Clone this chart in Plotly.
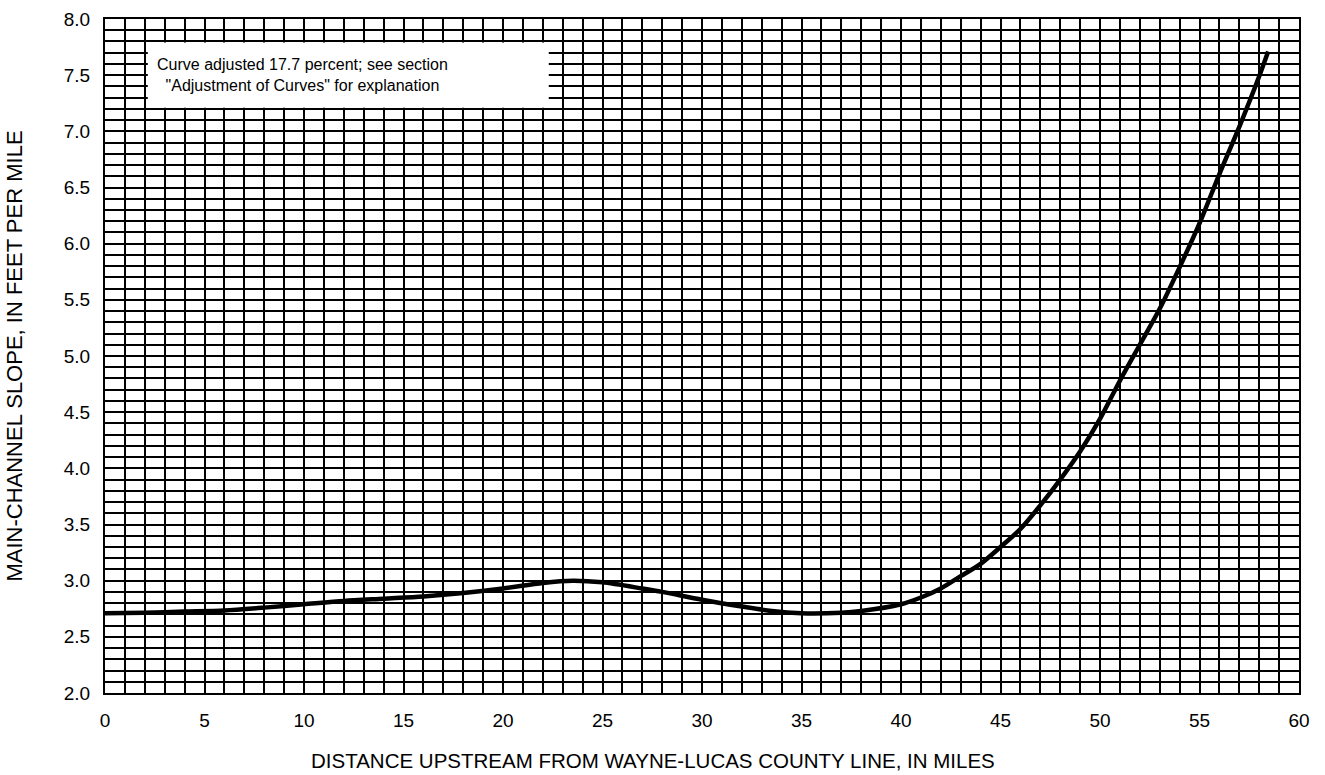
import plotly.graph_objects as go

# Distance upstream (miles) and main-channel slope (ft/mi)
distance = [0, 2, 4, 6, 8, 10, 12, 14, 16, 18, 20, 22, 23.5, 25, 27, 28, 30, 32,
            33.5, 35, 37, 38, 40, 41, 42, 43, 44, 45, 46, 47, 48, 49, 50, 51, 52,
            53, 54, 55, 56, 57, 58, 58.45]
slope = [2.71, 2.715, 2.725, 2.735, 2.76, 2.79, 2.82, 2.84, 2.86, 2.89, 2.93, 2.98,
         3.00, 2.985, 2.93, 2.90, 2.83, 2.77, 2.73, 2.71, 2.715, 2.73, 2.79, 2.85,
         2.93, 3.04, 3.15, 3.30, 3.46, 3.67, 3.90, 4.15, 4.44, 4.78, 5.10, 5.42,
         5.79, 6.18, 6.62, 7.04, 7.49, 7.71]

x_ticks = [0, 5, 10, 15, 20, 25, 30, 35, 40, 45, 50, 55, 60]
y_ticks = [2.0, 2.5, 3.0, 3.5, 4.0, 4.5, 5.0, 5.5, 6.0, 6.5, 7.0, 7.5, 8.0]

note_text = "Curve adjusted 17.7 percent; see section<br>\"Adjustment of Curves\" for explanation"
x_title = "DISTANCE UPSTREAM FROM WAYNE-LUCAS COUNTY LINE, IN MILES"
y_title = "MAIN-CHANNEL SLOPE, IN FEET PER MILE"

FONT = "Liberation Sans, Arial, Helvetica, sans-serif"

fig = go.Figure()
fig.add_trace(go.Scatter(
    x=distance, y=slope, mode="lines",
    line=dict(color="black", width=4.5, shape="spline", smoothing=0.8),
    hoverinfo="skip", showlegend=False,
))

# white box behind the note
fig.add_shape(type="rect", xref="x", yref="y", x0=2.15, x1=22.3, y0=7.21, y1=7.79,
              fillcolor="white", line=dict(width=0), layer="above")
fig.add_annotation(x=2.5, y=7.5, xref="x", yref="y", text=note_text, showarrow=False,
                   xanchor="left", yanchor="middle", align="center",
                   font=dict(family=FONT, size=16, color="black"))

# x-axis title (placed slightly left of centre, as in the original)
fig.add_annotation(x=0.459, y=0, xref="paper", yref="paper", yshift=-67,
                   text=x_title, showarrow=False, xanchor="center", yanchor="middle",
                   font=dict(family=FONT, size=20.5, color="black"))

axis_common = dict(
    showline=True, mirror=True, linecolor="black", linewidth=2,
    showgrid=True, gridcolor="black", gridwidth=1.6,
    zeroline=False, ticks="", ticklabelstandoff=9, automargin=False,
    tickfont=dict(family=FONT, size=19, color="black"),
)

fig.update_xaxes(
    range=[0, 60], tickvals=x_ticks, ticktext=[str(v) for v in x_ticks],
    minor=dict(dtick=1, showgrid=True, gridcolor="black", gridwidth=1.6),
    **axis_common,
)
fig.update_yaxes(
    range=[2, 8], tickvals=y_ticks, ticktext=[f"{v:.1f}" for v in y_ticks],
    minor=dict(dtick=0.1, showgrid=True, gridcolor="black", gridwidth=1.6),
    title=dict(text=y_title, standoff=35, font=dict(family=FONT, size=22, color="black")),
    **axis_common,
)

fig.update_layout(
    width=1325, height=775, autosize=False,
    margin=dict(l=105, r=26, t=19, b=82),
    paper_bgcolor="white", plot_bgcolor="white",
    font=dict(family=FONT, color="black"),
)

fig.write_html(
    "out.html",
    config={"displayModeBar": False},
    post_script="document.body.style.margin='0';document.body.style.overflow='hidden';",
)
